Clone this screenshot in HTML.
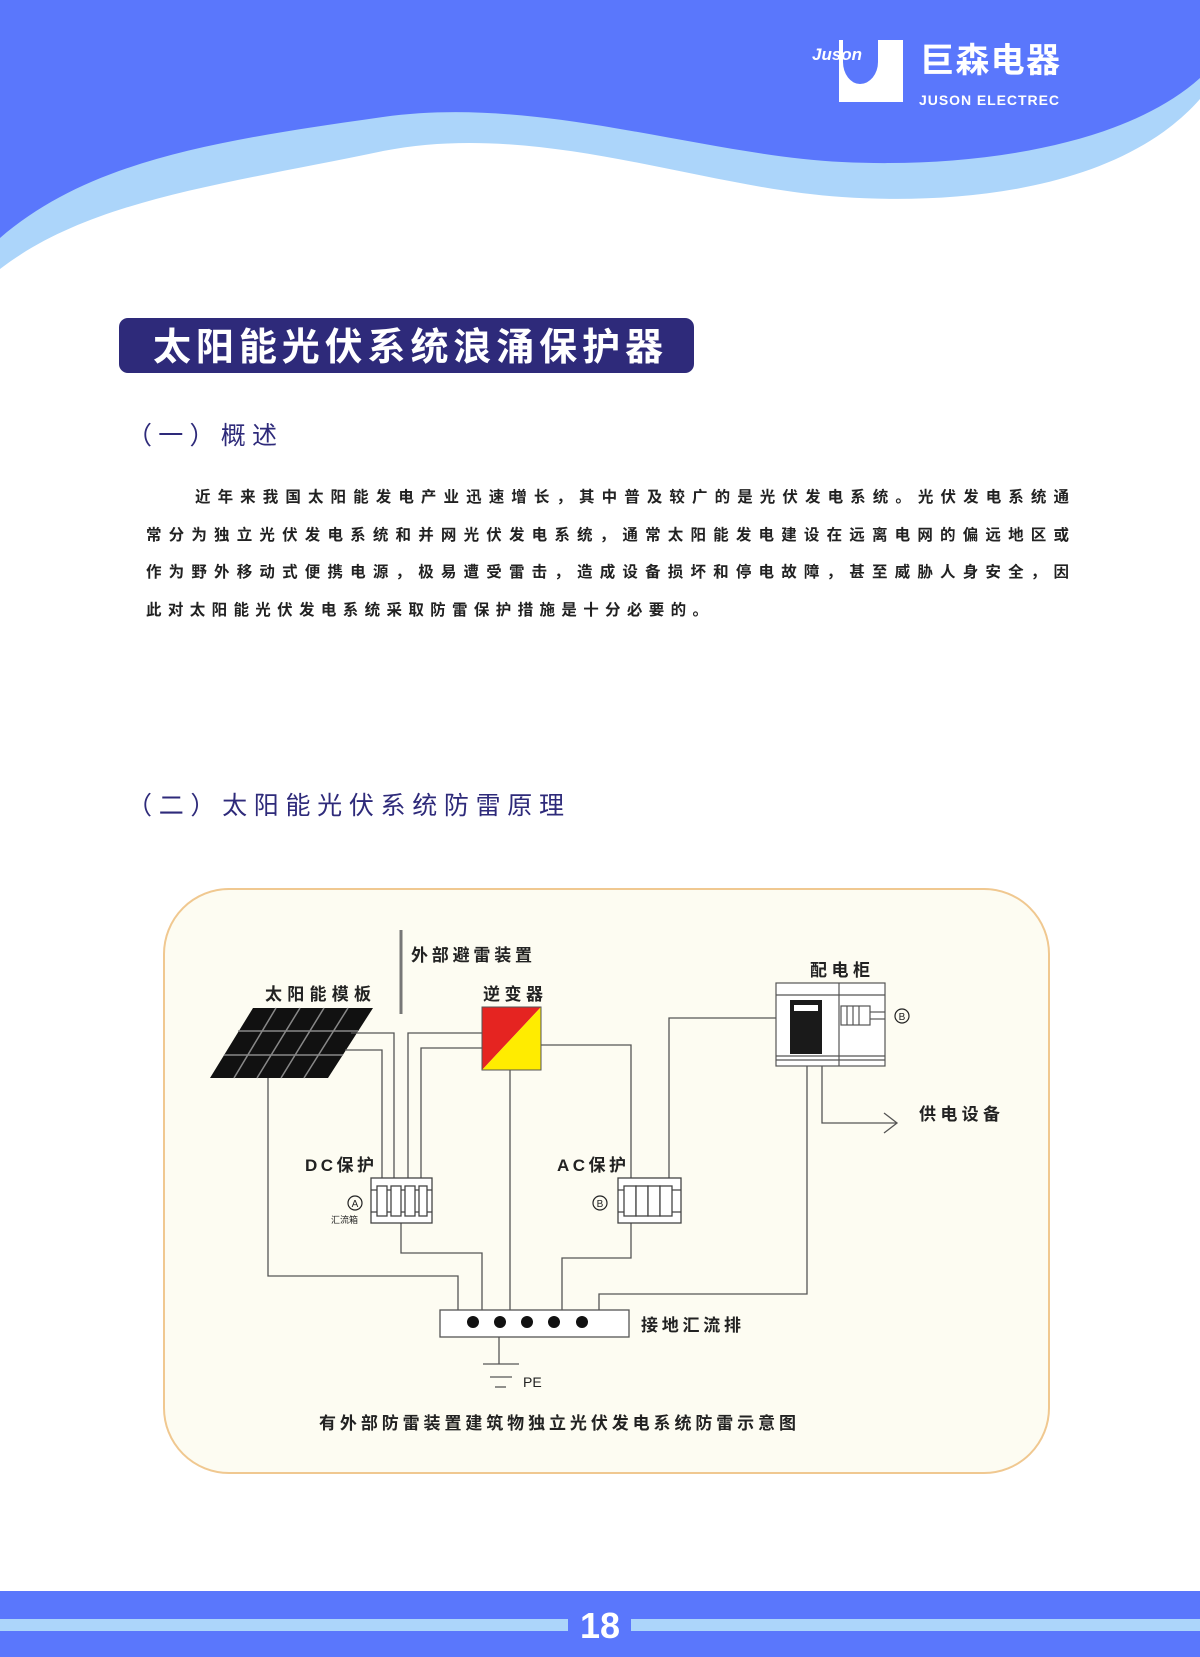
<!DOCTYPE html>
<html><head><meta charset="utf-8"><style>
html,body{margin:0;padding:0;background:#fff}
svg{display:block}
text{font-family:"Liberation Sans","Noto Sans CJK SC",sans-serif}
</style></head><body>
<svg width="1200" height="1657" viewBox="0 0 1200 1657" xmlns="http://www.w3.org/2000/svg">
<path d="M0,0 H1200 V99 C1120,190 960,205 842,197 C700,188 540,120 383,151 C220,185 90,200 0,269 Z" fill="#acd5fa"/>
<path d="M0,0 H1200 V78 C1120,150 960,168 842,162 C700,155 540,95 383,117 C220,140 90,160 0,238 Z" fill="#5a77fc"/>
<!-- logo -->
<rect x="839" y="40" width="64" height="62" fill="#fff"/>
<path d="M843,40 H878 V62 A18,22 0 0 1 860,84 A17,22 0 0 1 843,62 Z" fill="#5a77fc"/>
<rect x="872" y="40" width="6" height="12" fill="#5a77fc"/>
<text x="812" y="60" font-family="Liberation Serif" font-style="italic" font-weight="bold" font-size="17" fill="#fff">Juson</text>
<text x="920" y="72" font-size="34" font-weight="bold" fill="#fff" textLength="140">巨森电器</text>
<text x="919" y="105" font-size="14" font-weight="bold" fill="#fff" textLength="140">JUSON ELECTREC</text>
<rect x="119" y="318" width="575" height="55" rx="9" fill="#2e2a7a"/>
<text x="153" y="360" font-size="38" font-weight="bold" fill="#fff" textLength="510">太阳能光伏系统浪涌保护器</text>
<text x="127" y="444" font-size="25" fill="#2e2a7a" textLength="150">（一）概述</text>
<g font-size="15.5" fill="#222" font-weight="bold">
<text x="195" y="502" textLength="874">近年来我国太阳能发电产业迅速增长，其中普及较广的是光伏发电系统。光伏发电系统通</text>
<text x="146" y="540" textLength="923">常分为独立光伏发电系统和并网光伏发电系统，通常太阳能发电建设在远离电网的偏远地区或</text>
<text x="146" y="577" textLength="923">作为野外移动式便携电源，极易遭受雷击，造成设备损坏和停电故障，甚至威胁人身安全，因</text>
<text x="146" y="615" textLength="562">此对太阳能光伏发电系统采取防雷保护措施是十分必要的。</text>
</g>
<text x="127" y="814" font-size="25" fill="#2e2a7a" textLength="437">（二）太阳能光伏系统防雷原理</text>
<rect x="164" y="889" width="885" height="584" rx="65" fill="#fdfcf2" stroke="#f0c890" stroke-width="2"/>
<g font-size="17" fill="#222" font-weight="bold">
<text x="411" y="961" textLength="121">外部避雷装置</text>
<text x="265" y="1000" textLength="106">太阳能模板</text>
<text x="483" y="1000" textLength="60">逆变器</text>
<text x="810" y="976" textLength="60">配电柜</text>
<text x="919" y="1120" textLength="81">供电设备</text>
<text x="305" y="1171" textLength="69">DC保护</text>
<text x="557" y="1171" textLength="69">AC保护</text>
<text x="641" y="1331" textLength="100">接地汇流排</text>
<text x="319" y="1429" textLength="477">有外部防雷装置建筑物独立光伏发电系统防雷示意图</text>
</g>
<text x="523" y="1387" font-size="14" fill="#222">PE</text>
<text x="331" y="1223" font-size="9" fill="#222">汇流箱</text>
<g fill="none" stroke="#222" stroke-width="1.2">
<circle cx="355" cy="1203" r="7"/><circle cx="600" cy="1203" r="7"/><circle cx="902" cy="1016" r="7"/>
</g>
<g font-size="10" fill="#222" text-anchor="middle"><text x="355" y="1207">A</text><text x="600" y="1207">B</text><text x="902" y="1020">B</text></g>
<line x1="401" y1="930" x2="401" y2="1014" stroke="#777" stroke-width="3"/>
<polygon points="253,1008 373,1008 328,1078 210,1078" fill="#111"/>
<g stroke="#888" stroke-width="1.5">
<line x1="276" y1="1008" x2="234" y2="1078"/><line x1="300" y1="1008" x2="257" y2="1078"/><line x1="324" y1="1008" x2="281" y2="1078"/><line x1="348" y1="1008" x2="304" y2="1078"/>
<line x1="238" y1="1031" x2="358" y2="1031"/><line x1="224" y1="1055" x2="343" y2="1055"/>
</g>
<polygon points="482,1007 541,1007 482,1070" fill="#e52421"/>
<polygon points="541,1007 541,1070 482,1070" fill="#ffec00"/>
<rect x="482" y="1007" width="59" height="63" fill="none" stroke="#555" stroke-width="1"/>
<g fill="none" stroke="#555" stroke-width="1.3">
<polyline points="351,1033 394,1033 394,1178"/>
<polyline points="345,1050 382,1050 382,1178"/>
<polyline points="482,1033 408,1033 408,1178"/>
<polyline points="482,1048 421,1048 421,1178"/>
<polyline points="541,1045 631,1045 631,1178"/>
<polyline points="669,1178 669,1018 776,1018"/>
<line x1="510" y1="1070" x2="510" y2="1310"/>
<polyline points="268,1078 268,1276 458,1276 458,1310"/>
<polyline points="401,1223 401,1253 482,1253 482,1310"/>
<polyline points="631,1223 631,1258 562,1258 562,1310"/>
<polyline points="807,1066 807,1294 599,1294 599,1310"/>
<polyline points="822,1066 822,1123 896,1123"/>
<polyline points="884,1113 897,1123 884,1133"/>
<line x1="499" y1="1337" x2="499" y2="1364"/>
<line x1="483" y1="1364" x2="519" y2="1364"/>
<line x1="490" y1="1377" x2="512" y2="1377"/>
<line x1="495" y1="1387" x2="506" y2="1387"/>
</g>
<g fill="#fff" stroke="#444" stroke-width="1.3">
<rect x="371" y="1178" width="61" height="45"/>
<line x1="371" y1="1190" x2="432" y2="1190"/><line x1="371" y1="1212" x2="432" y2="1212"/>
<rect x="377" y="1186" width="10" height="30"/><rect x="391" y="1186" width="10" height="30"/><rect x="405" y="1186" width="10" height="30"/><rect x="419" y="1186" width="8" height="30"/>
</g>
<g fill="#fff" stroke="#444" stroke-width="1.3">
<rect x="618" y="1178" width="63" height="45"/>
<line x1="618" y1="1190" x2="681" y2="1190"/><line x1="618" y1="1212" x2="681" y2="1212"/>
<rect x="624" y="1186" width="12" height="30"/><rect x="636" y="1186" width="12" height="30"/><rect x="648" y="1186" width="12" height="30"/><rect x="660" y="1186" width="12" height="30"/>
</g>
<g fill="#fff" stroke="#555" stroke-width="1.2">
<rect x="776" y="983" width="109" height="83"/>
<line x1="776" y1="995" x2="885" y2="995"/><line x1="776" y1="1056" x2="885" y2="1056"/><line x1="776" y1="1060" x2="885" y2="1060"/>
<line x1="839" y1="983" x2="839" y2="1066"/>
<rect x="841" y="1006" width="29" height="19"/>
<line x1="847" y1="1006" x2="847" y2="1025"/><line x1="853" y1="1006" x2="853" y2="1025"/><line x1="859" y1="1006" x2="859" y2="1025"/>
<line x1="870" y1="1012" x2="885" y2="1012"/><line x1="870" y1="1019" x2="885" y2="1019"/>
</g>
<rect x="790" y="1000" width="32" height="54" fill="#1a1a1a"/>
<rect x="794" y="1005" width="24" height="6" fill="#fff"/>
<rect x="440" y="1310" width="189" height="27" fill="#fff" stroke="#555" stroke-width="1.3"/>
<g fill="#111"><circle cx="473" cy="1322" r="6"/><circle cx="500" cy="1322" r="6"/><circle cx="527" cy="1322" r="6"/><circle cx="554" cy="1322" r="6"/><circle cx="582" cy="1322" r="6"/></g>
<rect x="0" y="1591" width="1200" height="66" fill="#5a77fc"/>
<rect x="0" y="1619" width="568" height="12" fill="#acd5fa"/>
<rect x="631" y="1619" width="569" height="12" fill="#acd5fa"/>
<text x="600" y="1638" font-size="36" font-weight="bold" fill="#fff" text-anchor="middle">18</text>
</svg>
</body></html>
